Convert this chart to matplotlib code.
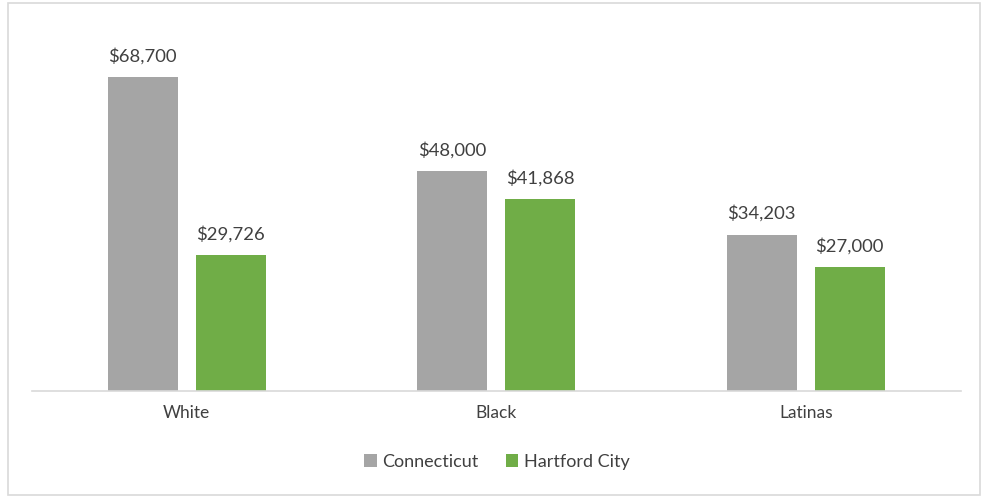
import matplotlib.pyplot as plt
from matplotlib.patches import Rectangle
import numpy as np

# Data
groups = ["White", "Black", "Latinas"]
connecticut = [68700, 48000, 34203]
hartford = [29726, 41868, 27000]
series_names = ["Connecticut", "Hartford City"]

gray = "#a5a5a5"
green = "#70ad47"
text_color = "#404040"

plt.rcParams["font.family"] = ["Lato", "DejaVu Sans"]

fig = plt.figure(figsize=(9.89, 4.98), dpi=100)
ax = fig.add_axes([32 / 989, 1 - 391 / 498, 928.5 / 989, 366 / 498])

x = np.arange(len(groups))
w = 0.226
off = 0.142
b1 = ax.bar(x - off, connecticut, w, color=gray, label=series_names[0])
b2 = ax.bar(x + off, hartford, w, color=green, label=series_names[1])

for bars, vals in ((b1, connecticut), (b2, hartford)):
    for b, v in zip(bars, vals):
        ax.annotate(f"${v:,}", (b.get_x() + b.get_width() / 2, v),
                    xytext=(0, 9), textcoords="offset points",
                    ha="center", va="bottom", fontsize=13.3, color=text_color)

ax.set_xlim(-0.5, 2.5)
ax.set_ylim(0, 80000)
ax.set_yticks([])
ax.set_xticks(x)
ax.set_xticklabels(groups, fontsize=12.5, color=text_color)
ax.tick_params(axis="x", length=0, pad=10)
for s in ("top", "right", "left"):
    ax.spines[s].set_visible(False)
ax.spines["bottom"].set_color("#d9d9d9")
ax.spines["bottom"].set_linewidth(1.2)

leg = fig.legend(loc="center", bbox_to_anchor=(497 / 989, 1 - 462 / 498),
                 ncol=2, frameon=False, fontsize=13, handlelength=0.7,
                 handleheight=0.7, handletextpad=0.3, columnspacing=1.5)
for t in leg.get_texts():
    t.set_color(text_color)

# outer border
fig.patches.append(Rectangle((8 / 989, 3 / 498), 972 / 989, 492 / 498,
                             transform=fig.transFigure, fill=False,
                             edgecolor="#d9d9d9", linewidth=1.2))

fig.savefig("out.png", dpi=100)
